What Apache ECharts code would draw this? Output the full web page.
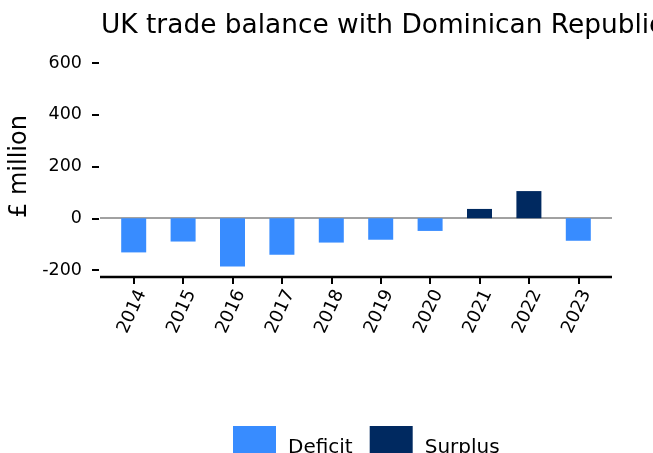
<!DOCTYPE html>
<html>
<head>
    <meta charset="utf-8">
    <title>UK trade balance with Dominican Republic</title>
    <script src="https://cdn.jsdelivr.net/npm/echarts@6.0.0/dist/echarts.min.js"></script>
    <style>
        body, html { margin: 0; padding: 0; background: #fff; }
        #main { width: 653px; height: 453px; }
    </style>
</head>
<body>
    <div id="main"></div>
    <script>
        // data
        const years = ['2014', '2015', '2016', '2017', '2018', '2019', '2020', '2021', '2022', '2023'];
        const balance = [-132, -90, -186, -141, -94, -83, -49, 36, 105, -87];
        const yTicks = [-200, 0, 200, 400, 600];

        const deficit = balance.map(v => v < 0 ? v : '-');
        const surplus = balance.map(v => v >= 0 ? v : '-');

        const chart = echarts.init(document.getElementById('main'));
        const font = 'DejaVu Sans, sans-serif';

        chart.setOption({
            animation: false,
            title: {
                text: 'UK trade balance with Dominican Republic',
                left: 96, top: 8,
                textStyle: { fontFamily: font, fontSize: 26.4, fontWeight: 'normal', color: '#000' }
            },
            legend: {
                data: ['Deficit', 'Surplus'],
                left: 228, top: 421,
                itemWidth: 43, itemHeight: 43, itemGap: 17,
                icon: 'rect',
                textStyle: { fontFamily: font, fontSize: 20, color: '#000', padding: [0, 0, 0, 7] }
            },
            grid: { left: 109, right: 50, top: 63, bottom: 183, outerBoundsMode: 'none' },
            xAxis: {
                type: 'category',
                data: years,
                offset: 7,
                axisLine: { show: false, onZero: false },
                axisTick: { show: true, alignWithLabel: true, length: 7, lineStyle: { color: '#000', width: 2 } },
                axisLabel: { rotate: 65, verticalAlign: 'top', fontFamily: font, fontSize: 18, color: '#000', margin: 10 }
            },
            yAxis: {
                type: 'value',
                min: yTicks[0], max: yTicks[yTicks.length - 1], interval: 200,
                offset: 10,
                name: '£ million',
                nameLocation: 'middle',
                nameGap: 67,
                nameTextStyle: { fontFamily: font, fontSize: 24, color: '#000' },
                splitLine: { show: false },
                axisLine: { show: false },
                axisTick: { show: true, length: 7, lineStyle: { color: '#000', width: 2 } },
                axisLabel: { fontFamily: font, fontSize: 17.5, color: '#000', margin: 17 }
            },
            graphic: [{
                type: 'line',
                shape: { x1: 100, y1: 277, x2: 612, y2: 277 },
                style: { stroke: '#000', lineWidth: 2.5 }
            }, {
                type: 'line',
                shape: { x1: 100, y1: 218, x2: 612, y2: 218 },
                style: { stroke: '#444', lineWidth: 1 },
                z: 0
            }],
            series: [{
                name: 'Deficit',
                type: 'bar',
                stack: 'bal',
                data: deficit,
                barWidth: 25,
                itemStyle: { color: '#388CFF' }
            }, {
                name: 'Surplus',
                type: 'bar',
                stack: 'bal',
                data: surplus,
                barWidth: 25,
                itemStyle: { color: '#002960' }
            }]
        });
    </script>
</body>
</html>
